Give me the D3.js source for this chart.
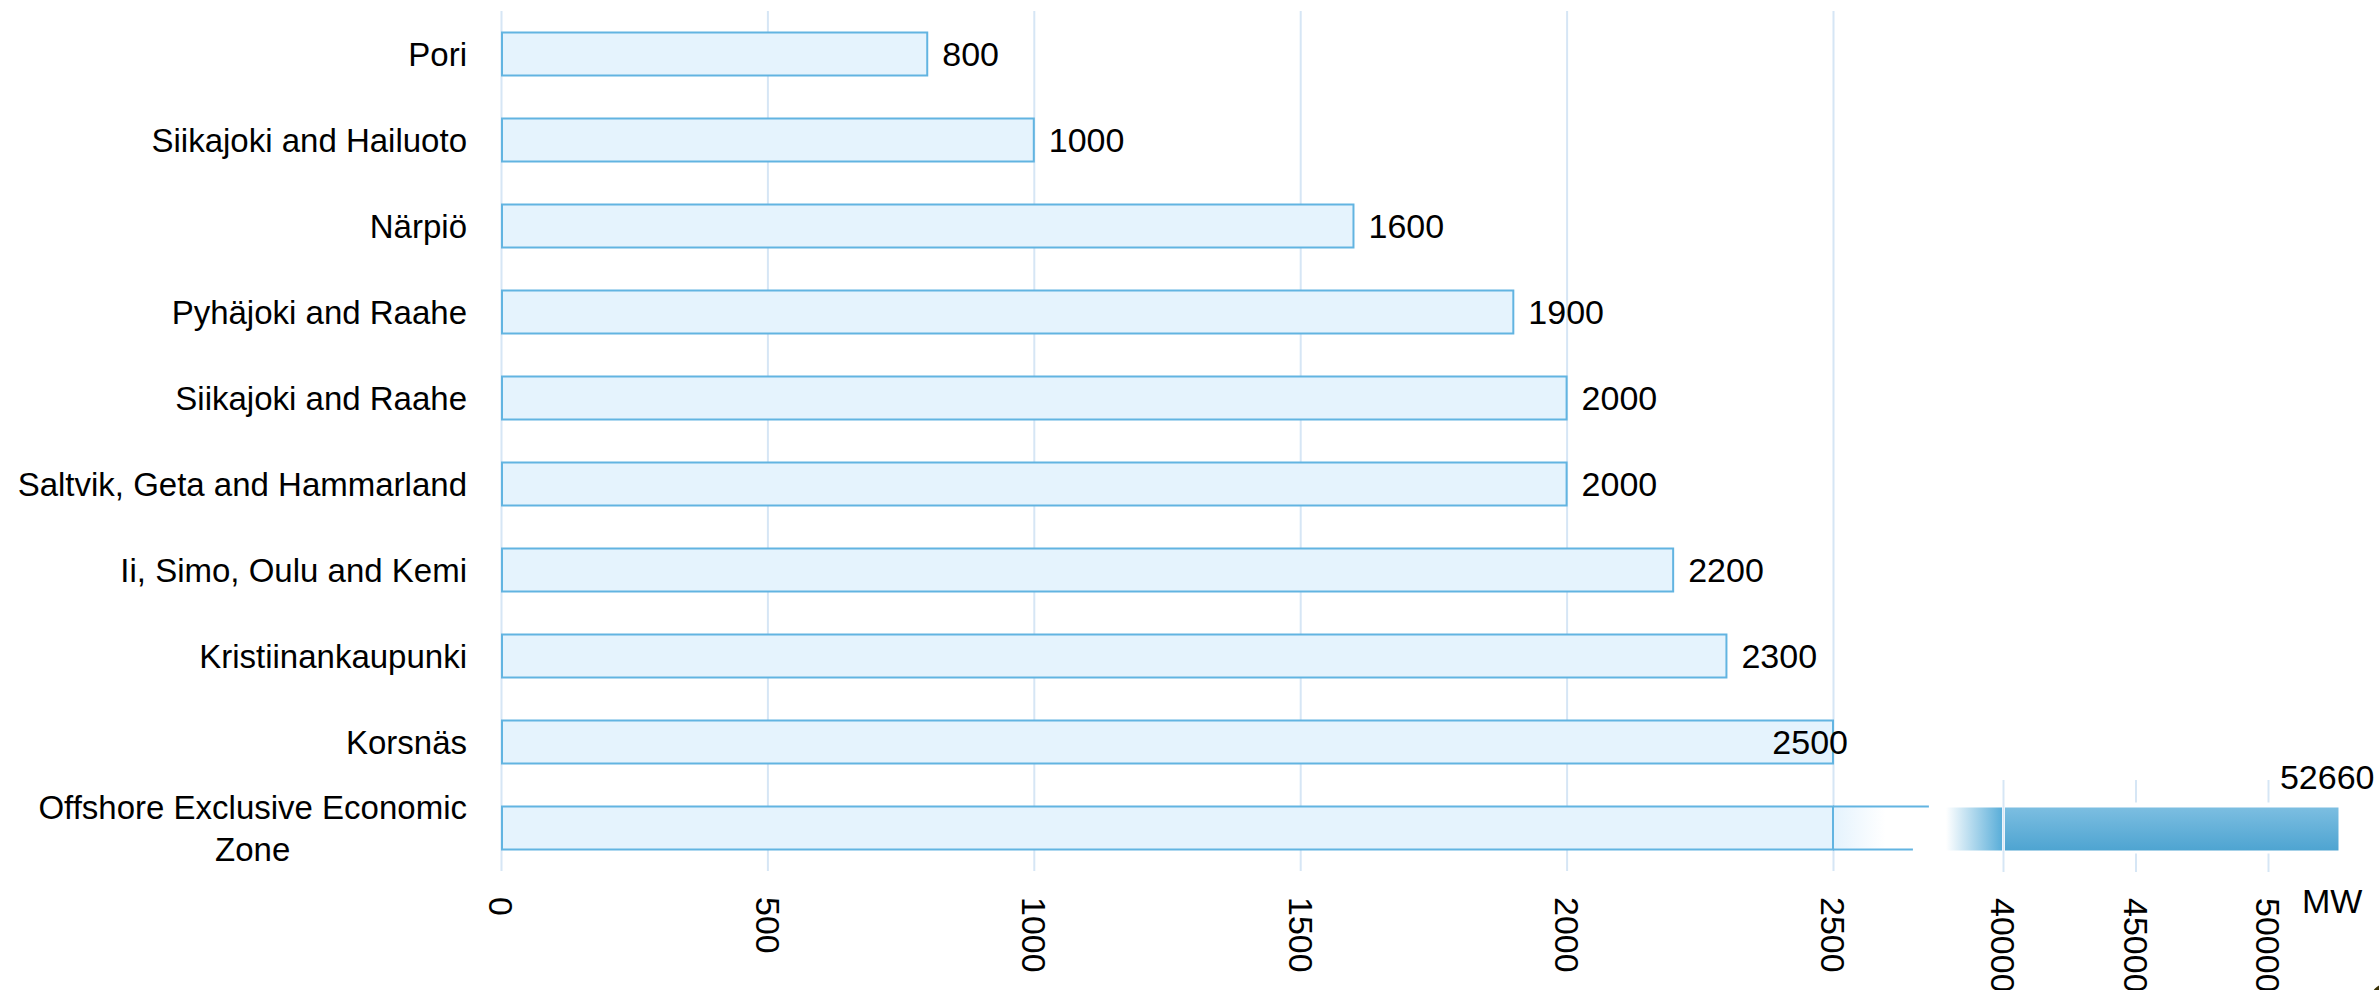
<!DOCTYPE html>
<html>
<head>
<meta charset="utf-8">
<script src="https://cdn.jsdelivr.net/npm/d3@7"></script>
<style>
  body { margin: 0; background: #fff; }
  svg { display: block; font-family: "Liberation Sans", Arial, sans-serif; }
</style>
</head>
<body>
<svg id="chart"></svg>
<script>
// data
const categories = ['Pori', 'Siikajoki and Hailuoto', 'Närpiö', 'Pyhäjoki and Raahe',
  'Siikajoki and Raahe', 'Saltvik, Geta and Hammarland', 'Ii, Simo, Oulu and Kemi',
  'Kristiinankaupunki', 'Korsnäs', 'Offshore Exclusive Economic Zone']
const capacities = [800, 1000, 1600, 1900, 2000, 2000, 2200, 2300, 2500, 52660]
const lowTicks = [0, 500, 1000, 1500, 2000, 2500]
const highTicks = [40000, 45000, 50000]
const unitLabel = 'MW'

let width = 2379
let height = 990

let barFill = '#e5f3fd'
let barStroke = '#62b4e1'
let gridColor = '#d6e6f5'

let svg = d3.select('#chart').attr('width', width).attr('height', height)

let values = categories.map((c, i) => ({ name: c, value: capacities[i] }))

// broken value axis: low part 0-2500, high part from ~38000
let xLow = d3.scaleLinear().domain([0, 2500]).range([501, 1833])
let xHigh = d3.scaleLinear().domain([40000, 50000]).range([2003, 2268])
let yScale = d3.scaleBand().domain(categories).range([11, 871])
  .paddingInner(0.5).paddingOuter(0.25)

let lowMax = xLow.domain()[1]
let highStart = 37850

let defs = svg.append('defs')
let fadeOut = defs.append('linearGradient').attr('id', 'fadeOut')
fadeOut.append('stop').attr('offset', '0%').attr('stop-color', barFill)
fadeOut.append('stop').attr('offset', '65%').attr('stop-color', '#ffffff')
let fadeIn = defs.append('linearGradient').attr('id', 'fadeIn')
fadeIn.append('stop').attr('offset', '0%').attr('stop-color', '#ffffff')
fadeIn.append('stop').attr('offset', '100%').attr('stop-color', '#5aaed9')
let bigBar = defs.append('linearGradient').attr('id', 'bigBar')
  .attr('x1', 0).attr('y1', 0).attr('x2', 0).attr('y2', 1)
bigBar.append('stop').attr('offset', '0%').attr('stop-color', '#7cbee1')
bigBar.append('stop').attr('offset', '100%').attr('stop-color', '#4ea4d1')

// grid + tick labels
let styleAxis = (g) => {
  g.select('.domain').remove()
  g.selectAll('.tick line').attr('stroke', gridColor).attr('stroke-width', 2)
  g.selectAll('.tick text')
    .attr('x', 0).attr('y', 0).attr('dy', null)
    .attr('text-anchor', 'start')
    .attr('transform', 'translate(-12.2,26) rotate(90)')
    .attr('font-size', 34)
    .attr('fill', '#000')
}

svg.append('g')
  .attr('transform', 'translate(0,871)')
  .call(d3.axisBottom(xLow).tickValues(lowTicks).tickSize(-860).tickFormat(d3.format('d')))
  .call(styleAxis)

svg.append('g')
  .attr('transform', 'translate(0,872)')
  .call(d3.axisBottom(xHigh).tickValues(highTicks).tickSize(-92).tickFormat(d3.format('d')))
  .call(styleAxis)

// regular bars
let last = values[values.length - 1]
let regular = values.slice(0, -1)

svg.selectAll('.bar')
  .data(regular)
  .enter()
  .append('rect')
  .attr('class', 'bar')
  .attr('x', xLow(0) + 1)
  .attr('y', d => yScale(d.name))
  .attr('width', d => xLow(d.value) - xLow(0) - 1)
  .attr('height', yScale.bandwidth())
  .attr('fill', barFill)
  .attr('stroke', barStroke)
  .attr('stroke-width', 2)

// offshore bar, split over the break
let yb = yScale(last.name)
let bh = yScale.bandwidth()

svg.append('rect')
  .attr('x', xLow(0) + 1).attr('y', yb)
  .attr('width', xLow(lowMax) - xLow(0) - 1).attr('height', bh)
  .attr('fill', barFill).attr('stroke', barStroke).attr('stroke-width', 2)
svg.append('rect')
  .attr('x', xLow(lowMax) + 1).attr('y', yb + 1)
  .attr('width', xLow(2650) - xLow(lowMax) - 1).attr('height', bh - 2)
  .attr('fill', 'url(#fadeOut)')
svg.append('line')
  .attr('x1', xLow(lowMax)).attr('x2', xLow(2680))
  .attr('y1', yb).attr('y2', yb)
  .attr('stroke', barStroke).attr('stroke-width', 2)
svg.append('line')
  .attr('x1', xLow(lowMax)).attr('x2', xLow(2650))
  .attr('y1', yb + bh).attr('y2', yb + bh)
  .attr('stroke', barStroke).attr('stroke-width', 2)

// high part
svg.append('rect')
  .attr('x', xHigh(40000) + 3).attr('y', yb - 4)
  .attr('width', xHigh(last.value) - xHigh(40000)).attr('height', bh + 8)
  .attr('fill', '#fff')
svg.append('rect')
  .attr('x', xHigh(highStart)).attr('y', yb + 1)
  .attr('width', xHigh(40000) - 1 - xHigh(highStart)).attr('height', bh)
  .attr('fill', 'url(#fadeIn)')
svg.append('rect')
  .attr('x', xHigh(40000) + 2).attr('y', yb + 1)
  .attr('width', xHigh(last.value) - xHigh(40000) - 2).attr('height', bh)
  .attr('fill', 'url(#bigBar)')

// value labels
svg.selectAll('.val')
  .data(regular)
  .enter()
  .append('text')
  .attr('class', 'val')
  .attr('x', d => xLow(d.value) + 15)
  .attr('y', d => yScale(d.name) + bh / 2)
  .attr('dy', '0.35em')
  .attr('text-anchor', d => d.value >= lowMax ? 'end' : 'start')
  .attr('font-size', 34)
  .text(d => d.value)

svg.append('text')
  .attr('x', xHigh(last.value) + 36)
  .attr('y', yb - 29)
  .attr('dy', '0.35em')
  .attr('text-anchor', 'end')
  .attr('font-size', 34)
  .text(last.value)

// category labels
let labelRight = 467
let catLabels = svg.selectAll('.cat')
  .data(categories)
  .enter()
  .append('text')
  .attr('class', 'cat')
  .attr('font-size', 33)
  .attr('fill', '#000')
  .attr('text-anchor', 'end')
  .attr('x', labelRight)
  .attr('y', d => yScale(d) + bh / 2)
  .attr('dy', '0.35em')
  .text(d => d)

catLabels.each(function(d) {
  let t = d3.select(this)
  if (this.getComputedTextLength() <= 480) return
  let words = d.split(' ')
  let lines = [words.slice(0, -1).join(' '), words[words.length - 1]]
  t.text(null)
  let tmp = t.append('tspan').text(lines[0])
  let w = tmp.node().getComputedTextLength()
  tmp.remove()
  let cx = labelRight - w / 2
  t.attr('text-anchor', 'middle').attr('dy', null)
  lines.forEach((ln, i) => {
    t.append('tspan')
      .attr('x', cx)
      .attr('y', yScale(d) + bh / 2 + (i - 0.5) * 42)
      .attr('dy', '0.35em')
      .text(ln)
  })
})

// unit
svg.append('text')
  .attr('x', 2302)
  .attr('y', 913)
  .attr('font-size', 34)
  .text(unitLabel)

// cropped corner mark
svg.append('circle')
  .attr('cx', 2388).attr('cy', 1001).attr('r', 18)
  .attr('fill', '#3a3206')
</script>
</body>
</html>
